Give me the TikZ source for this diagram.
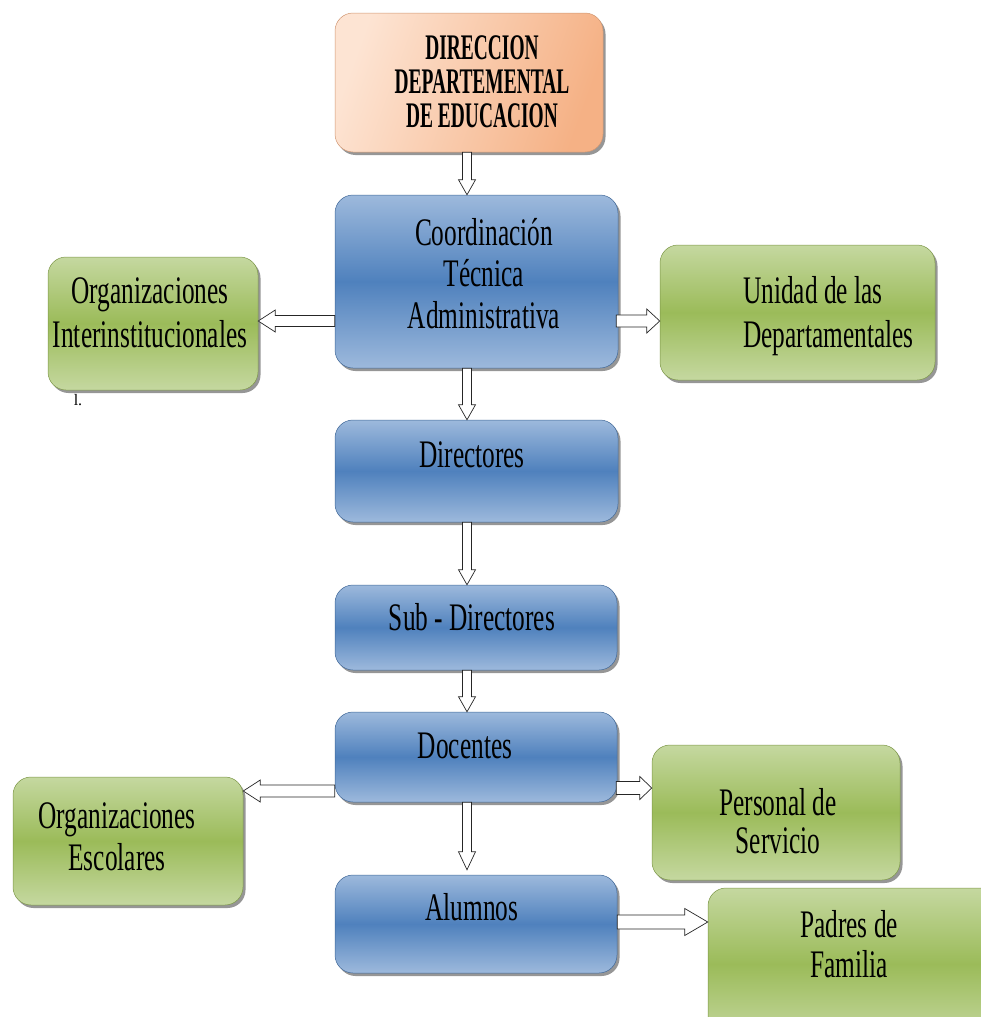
\documentclass[tikz,border=0pt]{standalone}
\usepackage{fontspec}
\setmainfont{Liberation Serif}
\usepackage{graphicx}
\usetikzlibrary{calc,shadows}
\definecolor{blueL}{HTML}{9DB9DC}
\definecolor{blueM}{HTML}{4F81BD}
\definecolor{greenL}{HTML}{C5D8A0}
\definecolor{greenM}{HTML}{9BBB59}
\definecolor{orL}{HTML}{FDE4D3}
\definecolor{orM}{HTML}{F5B185}
\newcommand{\tx}[2][0.65]{\scalebox{#1}[1]{\begin{tabular}[t]{@{}c@{}}#2\end{tabular}}}
\newcommand{\txl}[2][0.65]{\scalebox{#1}[1]{\begin{tabular}[t]{@{}l@{}}#2\end{tabular}}}
% hollow arrow: #1 start, #2 tip, #3 shaft half-width, #4 head half-width, #5 head length
\newcommand{\hollow}[5]{%
  \coordinate (hA) at #1; \coordinate (hB) at #2;
  \coordinate (hC) at ($(hB)!#5!(hA)$);
  \draw[harrow] ($(hA)!#3!90:(hB)$) -- ($(hC)!#3!-90:(hA)$) -- ($(hC)!#4!-90:(hA)$)
    -- (hB) -- ($(hC)!#4!90:(hA)$) -- ($(hC)!#3!90:(hA)$) -- ($(hA)!#3!-90:(hB)$) -- cycle;}
\tikzset{
  box/.style={rounded corners=18pt, inner sep=0pt, line width=0.5pt,
    drop shadow={shadow xshift=2.5pt, shadow yshift=-3pt, fill=black!75, opacity=0.55}},
  bluebox/.style={box, draw=blueM!80!black, top color=blueL, bottom color=blueL, middle color=blueM},
  greenbox/.style={box, draw=greenM!80!black, top color=greenL, bottom color=greenL, middle color=greenM},
  orbox/.style={box, draw=orM!85!black, left color=orL, right color=orM, shading angle=70},
  txt/.style={anchor=base, inner sep=0pt, font=\fontsize{39}{42}\selectfont, text=black},
  harrow/.style={draw=black!85, fill=white, line width=0.7pt, line join=miter},
}
\begin{document}
\begin{tikzpicture}[x=1pt, y=-1pt]
\useasboundingbox (0,0) rectangle (981,1017);
% stray text fragment
\node[anchor=base, inner sep=0pt, font=\fontsize{16}{16}\selectfont] (stray) at (78,405) {l.};
% boxes
\node[orbox, minimum width=268pt, minimum height=139pt] (top) at (469,82.5) {};
\node[bluebox, minimum width=283pt, minimum height=173pt] (coord) at (476.5,281.5) {};
\node[bluebox, minimum width=283pt, minimum height=102pt] (dir) at (476.5,471) {};
\node[bluebox, minimum width=282pt, minimum height=85pt] (sub) at (476,627.5) {};
\node[bluebox, minimum width=282pt, minimum height=90pt] (doc) at (476,757) {};
\node[bluebox, minimum width=282pt, minimum height=98pt] (alu) at (476,924) {};
\node[greenbox, minimum width=210pt, minimum height=133pt] (orgI) at (153,323.5) {};
\node[greenbox, minimum width=275pt, minimum height=135pt] (unid) at (797.5,312.5) {};
\node[greenbox, minimum width=230pt, minimum height=128pt] (orgE) at (128,841) {};
\node[greenbox, minimum width=248pt, minimum height=135pt] (pers) at (776,812.5) {};
\node[greenbox, minimum width=292pt, minimum height=152pt] (padres) at (854,964) {};
% texts
\node[txt, font=\fontsize{36}{34}\selectfont\bfseries] (topT) at (482,59)
  {\tx[0.54]{DIRECCION\\DEPARTEMENTAL\\DE EDUCACION}};
\node[txt] (coordT) at (484,245) {\tx{Coordinación\\[-0.5pt]Técnica\\[-0.5pt]Administrativa}};
\node[txt] (dirT) at (472,467) {\tx{Directores}};
\node[txt] (subT) at (472,630) {\tx{Sub - Directores}};
\node[txt] (docT) at (465,758) {\tx{Docentes}};
\node[txt] (aluT) at (472,920) {\tx{Alumnos}};
\node[txt] (orgIT) at (150,303) {\tx{Organizaciones\\[2pt]Interinstitucionales}};
\node[txt, anchor=base west] (unidT) at (743,303) {\txl{Unidad de las\\[2pt]Departamentales}};
\node[txt] (orgET) at (117,828) {\tx{Organizaciones\\Escolares}};
\node[txt] (persT) at (778,815) {\tx{Personal de\\[-4pt]Servicio}};
\node[txt] (padT) at (849,937) {\tx{Padres de\\[-2pt]Familia}};
% arrows
\coordinate (vx) at (467,0);
\hollow{(vx |- top.south)}{(vx |- coord.north)}{4.5pt}{8.5pt}{15pt}
\hollow{(vx |- coord.south)}{(vx |- dir.north)}{4.5pt}{8.5pt}{15pt}
\hollow{(vx |- dir.south)}{(vx |- sub.north)}{4.5pt}{8.5pt}{15pt}
\hollow{(vx |- sub.south)}{(vx |- doc.north)}{4.5pt}{8.5pt}{15pt}
\hollow{(vx |- doc.south)}{([yshift=5pt]vx |- alu.north)}{4.5pt}{8.5pt}{18pt}
\coordinate (c1) at (0,321);
\hollow{(c1 -| coord.west)}{(c1 -| orgI.east)}{5.5pt}{11pt}{17pt}
\hollow{([xshift=-2pt]c1 -| coord.east)}{(c1 -| unid.west)}{6pt}{12pt}{13pt}
\coordinate (c2) at (0,791);
\hollow{(c2 -| doc.west)}{(c2 -| orgE.east)}{6pt}{11pt}{17pt}
\coordinate (c3) at (0,788);
\hollow{([xshift=-1pt]c3 -| doc.east)}{(c3 -| pers.west)}{6.5pt}{11.5pt}{12pt}
\coordinate (c4) at (0,922);
\hollow{(c4 -| alu.east)}{(c4 -| padres.west)}{7pt}{13.5pt}{23pt}
\end{tikzpicture}
\end{document}
